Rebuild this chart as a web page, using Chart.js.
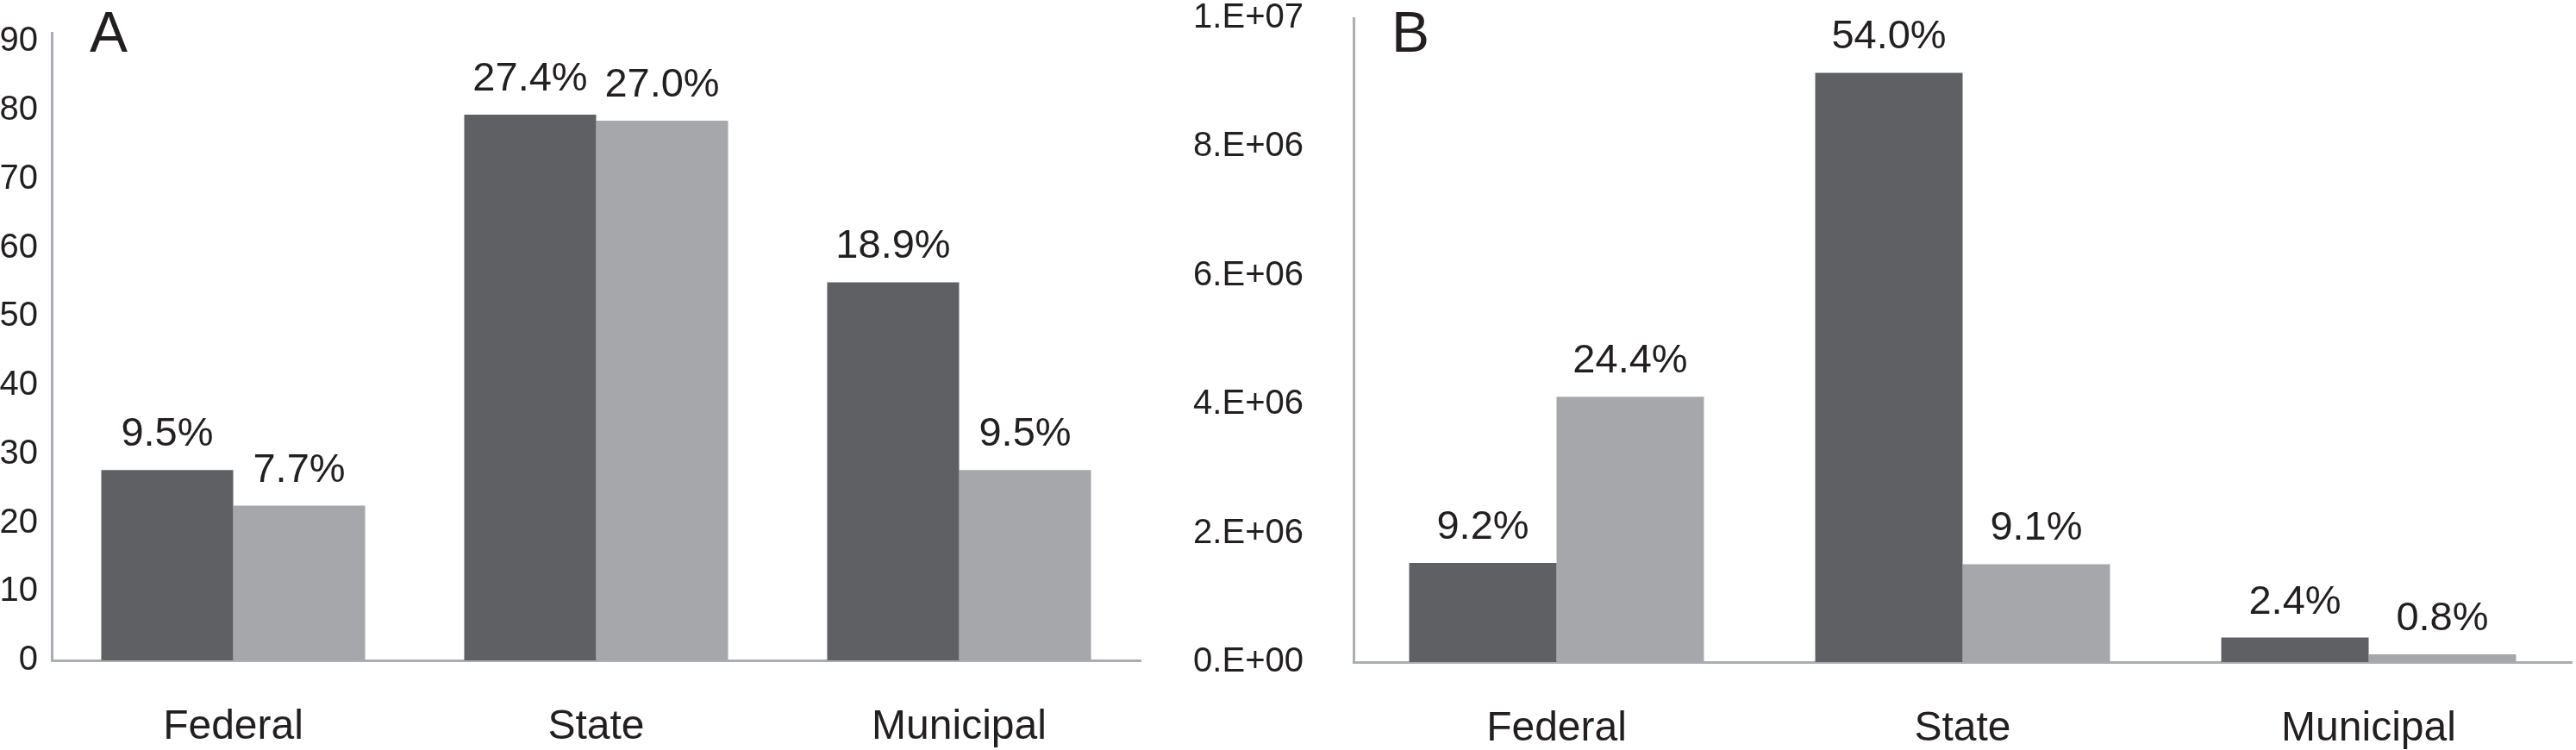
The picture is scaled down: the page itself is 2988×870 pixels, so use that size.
<!DOCTYPE html>
<html>
<head>
<meta charset="utf-8">
<script src="https://cdn.jsdelivr.net/npm/chart.js@4"></script>
<style>
  html, body { margin: 0; padding: 0; background: #ffffff; }
  body { width: 2988px; height: 870px; position: relative; overflow: hidden; }
  canvas { position: absolute; top: 0; }
  #chartA { left: 0; }
  #chartB { left: 1340px; }
</style>
</head>
<body>
<canvas id="chartA" width="1340" height="870"></canvas>
<canvas id="chartB" width="1648" height="870"></canvas>
<script>
// ---- data ----
const categories = ['Federal', 'State', 'Municipal'];

// Panel A
const aDark = [27.7, 79.4, 55.0];
const aLight = [22.5, 78.5, 27.7];
const aDarkPct = ['9.5%', '27.4%', '18.9%'];
const aLightPct = ['7.7%', '27.0%', '9.5%'];
const aTicks = [0, 10, 20, 30, 40, 50, 60, 70, 80, 90];

// Panel B
const bDark = [1540000, 9150000, 380000];
const bLight = [4120000, 1520000, 120000];
const bDarkPct = ['9.2%', '54.0%', '2.4%'];
const bLightPct = ['24.4%', '9.1%', '0.8%'];
const bTicks = [0, 2000000, 4000000, 6000000, 8000000, 10000000];

// ---- styles ----
const DARK = '#5f6064';
const LIGHT = '#a5a7aa';
const AXIS = '#aaadb1';
const TEXT = '#231f20';
const FONT = "'Liberation Sans', Arial, Helvetica, sans-serif";

Chart.defaults.font.family = FONT;
Chart.defaults.color = TEXT;

function sciLabel(v) {
  if (v === 0) return '0.E+00';
  const e = Math.floor(Math.log10(v) + 1e-9);
  const m = Math.round(v / Math.pow(10, e));
  return m + '.E+' + String(e).padStart(2, '0');
}

function pctPlugin(labelSets, letter) {
  return {
    id: 'pct' + letter,
    afterDatasetsDraw(chart) {
      const ctx = chart.ctx;
      ctx.save();
      ctx.fillStyle = TEXT;
      ctx.font = '47px ' + FONT;
      ctx.textAlign = 'center';
      ctx.textBaseline = 'alphabetic';
      chart.data.datasets.forEach((ds, di) => {
        const meta = chart.getDatasetMeta(di);
        meta.data.forEach((el, i) => {
          ctx.fillText(labelSets[di][i], el.x, el.y - 28);
        });
      });
      ctx.font = '66px ' + FONT;
      ctx.textAlign = 'left';
      ctx.fillText(letter, chart.chartArea.left + 44, 60);
      ctx.restore();
    }
  };
}

function makeChart(id, dark, light, labels, letter, cfg) {
  return new Chart(document.getElementById(id), {
    type: 'bar',
    data: {
      labels: categories,
      datasets: [
        { data: dark, backgroundColor: DARK, borderWidth: 0,
          categoryPercentage: cfg.catPct, barPercentage: 1.0 },
        { data: light, backgroundColor: LIGHT, borderWidth: 0,
          categoryPercentage: cfg.catPct, barPercentage: 1.0 }
      ]
    },
    options: {
      responsive: false,
      animation: false,
      devicePixelRatio: 1,
      layout: { padding: cfg.padding },
      plugins: { legend: { display: false }, tooltip: { enabled: false }, title: { display: false } },
      scales: {
        x: {
          grid: { display: false, drawTicks: false },
          border: { display: true, color: AXIS, width: 3 },
          ticks: { font: { size: 48 }, color: TEXT, padding: 49, maxRotation: 0, autoSkip: false },
          afterFit(scale) {
            scale.height = cfg.xHeight;
            scale.paddingLeft = 0;
            scale.paddingRight = 0;
          }
        },
        y: {
          min: 0,
          max: cfg.max,
          bounds: 'data',
          grace: 0,
          grid: { display: false, drawTicks: false },
          border: { display: true, color: AXIS, width: 3 },
          ticks: {
            font: { size: 40 }, color: TEXT, padding: cfg.tickPad,
            callback: cfg.fmt
          },
          afterBuildTicks(scale) {
            scale.min = 0;
            scale.max = cfg.max;
            scale.ticks = cfg.ticks.map(v => ({ value: v }));
          },
          afterFit(scale) {
            scale.width = cfg.yWidth;
            scale.paddingTop = 0;
            scale.paddingBottom = 0;
          }
        }
      }
    },
    plugins: [pctPlugin(labels, letter)]
  });
}

makeChart('chartA', aDark, aLight, [aDarkPct, aLightPct], 'A', {
  catPct: 0.727,
  padding: { left: 0, right: 17, top: 38, bottom: 0 },
  xHeight: 104,
  yWidth: 60,
  tickPad: 16,
  max: 91.3,
  ticks: aTicks,
  fmt: v => String(v)
});

makeChart('chartB', bDark, bLight, [bDarkPct, bLightPct], 'B', {
  catPct: 0.726,
  padding: { left: 0, right: 5, top: 21, bottom: 0 },
  xHeight: 102,
  yWidth: 230,
  tickPad: 58,
  max: 10000000,
  ticks: bTicks,
  fmt: v => sciLabel(v)
});
</script>
</body>
</html>
